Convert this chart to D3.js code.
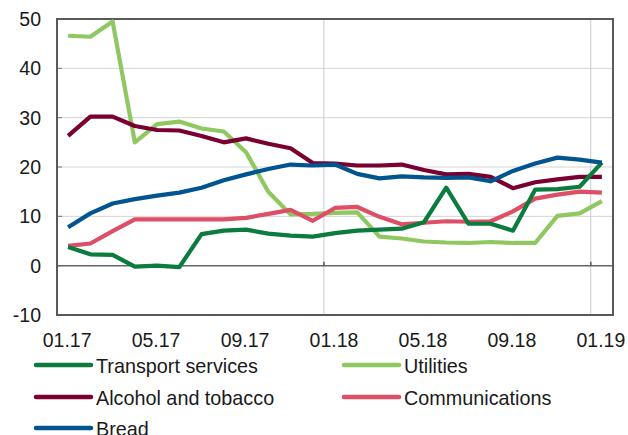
<!DOCTYPE html>
<html>
<head>
<meta charset="utf-8">
<script src="https://cdn.jsdelivr.net/npm/d3@7"></script>
<style>
  body { margin: 0; background: #fff; }
  text { font-family: "Liberation Sans", Arial, sans-serif; fill: #1a1a1a; }
</style>
</head>
<body>
<div id="chart"></div>
<script>
// months (categories)
const months = ['01.17','02.17','03.17','04.17','05.17','06.17','07.17','08.17','09.17','10.17','11.17','12.17',
                '01.18','02.18','03.18','04.18','05.18','06.18','07.18','08.18','09.18','10.18','11.18','12.18','01.19'];
const tickLabels = ['01.17','05.17','09.17','01.18','05.18','09.18','01.19'];
const gridMonths = ['01.18','01.19'];
const yTicks = [-10, 0, 10, 20, 30, 40, 50];

const transport = [3.8, 2.3, 2.2, -0.2, 0.0, -0.3, 6.4, 7.1, 7.3, 6.5, 6.1, 5.9, 6.6, 7.1, 7.3, 7.5, 8.8, 15.8, 8.5, 8.5, 7.1, 15.4, 15.5, 16.0, 20.9];
const utilities = [46.6, 46.4, 49.5, 25.0, 28.7, 29.2, 27.8, 27.2, 23.0, 15.0, 10.4, 10.5, 10.7, 10.8, 5.9, 5.5, 4.9, 4.7, 4.6, 4.8, 4.6, 4.6, 10.1, 10.6, 13.1];
const alcohol = [26.3, 30.2, 30.2, 28.3, 27.5, 27.4, 26.3, 25.0, 25.8, 24.7, 23.8, 20.8, 20.7, 20.3, 20.3, 20.5, 19.4, 18.5, 18.6, 18.0, 15.7, 16.9, 17.5, 18.0, 18.0];
const communications = [4.0, 4.5, 7.0, 9.4, 9.4, 9.4, 9.4, 9.4, 9.7, 10.5, 11.3, 9.1, 11.7, 11.9, 9.9, 8.4, 8.7, 9.0, 8.9, 9.0, 11.0, 13.6, 14.4, 15.0, 14.8];
const bread = [7.8, 10.6, 12.6, 13.5, 14.2, 14.8, 15.8, 17.3, 18.5, 19.6, 20.5, 20.3, 20.5, 18.6, 17.7, 18.1, 17.9, 17.8, 17.9, 17.1, 19.2, 20.7, 21.9, 21.5, 20.9];

const series = [
  { name: 'Transport services', values: transport, color: '#0b7b3e' },
  { name: 'Utilities', values: utilities, color: '#8fc760' },
  { name: 'Alcohol and tobacco', values: alcohol, color: '#7a0032' },
  { name: 'Communications', values: communications, color: '#dd4f66' },
  { name: 'Bread', values: bread, color: '#00548f' }
];
// draw order (last on top)
const drawOrder = ['Utilities', 'Communications', 'Alcohol and tobacco', 'Transport services', 'Bread'];

const W = 628, H = 435;
const plot = { left: 57, right: 613, top: 19, bottom: 315 };

const svg = d3.select('#chart').append('svg')
  .attr('width', W)
  .attr('height', H);

const x = d3.scaleBand().domain(months).range([plot.left, plot.right]).padding(0);
const xc = m => x(m) + x.bandwidth() / 2;
const y = d3.scaleLinear().domain([-10, 50]).range([plot.bottom, plot.top]);

// horizontal gridlines
svg.append('g')
  .selectAll('line')
  .data(yTicks.filter(v => v !== 0 && v !== 50 && v !== -10))
  .join('line')
  .attr('x1', plot.left).attr('x2', plot.right)
  .attr('y1', d => y(d)).attr('y2', d => y(d))
  .style('stroke', '#d3d3d3')
  .style('stroke-width', 1);

// vertical gridlines
svg.append('g')
  .selectAll('line')
  .data(gridMonths)
  .join('line')
  .attr('x1', d => x(d)).attr('x2', d => x(d))
  .attr('y1', plot.top).attr('y2', plot.bottom)
  .style('stroke', '#c5ccd3')
  .style('stroke-width', 1);

// inner y ticks
svg.append('g')
  .selectAll('line')
  .data(yTicks)
  .join('line')
  .attr('x1', plot.left).attr('x2', plot.left + 5)
  .attr('y1', d => y(d)).attr('y2', d => y(d))
  .style('stroke', '#777')
  .style('stroke-width', 1);

// zero line + ticks
svg.append('line')
  .attr('x1', plot.left).attr('x2', plot.right)
  .attr('y1', y(0)).attr('y2', y(0))
  .style('stroke', '#666')
  .style('stroke-width', 1.5);

svg.append('g')
  .selectAll('line')
  .data(gridMonths)
  .join('line')
  .attr('x1', d => x(d)).attr('x2', d => x(d))
  .attr('y1', y(0) - 4).attr('y2', y(0))
  .style('stroke', '#555')
  .style('stroke-width', 1.5);

// frame
svg.append('rect')
  .attr('x', plot.left).attr('y', plot.top)
  .attr('width', plot.right - plot.left)
  .attr('height', plot.bottom - plot.top)
  .style('fill', 'none')
  .style('stroke', '#595959')
  .style('stroke-width', 2);

// y labels
svg.append('g')
  .selectAll('text')
  .data(yTicks)
  .join('text')
  .attr('x', 41)
  .attr('y', d => y(d))
  .attr('text-anchor', 'end')
  .attr('dominant-baseline', 'central')
  .style('font-size', '19.5px')
  .text(d => d);

// x labels
svg.append('g')
  .selectAll('text')
  .data(tickLabels)
  .join('text')
  .attr('x', d => xc(d) - 1)
  .attr('y', 347)
  .attr('text-anchor', 'middle')
  .style('font-size', '19.5px')
  .text(d => d);

// lines
const line = d3.line()
  .x((d, i) => xc(months[i]))
  .y(d => y(d));

drawOrder.forEach(name => {
  const s = series.find(e => e.name === name);
  svg.append('path')
    .datum(s.values)
    .attr('d', line)
    .style('fill', 'none')
    .style('stroke', s.color)
    .style('stroke-width', 4.2)
    .style('stroke-linejoin', 'round');
});

// legend
const legendPos = [
  { x: 36, y: 365 }, { x: 344, y: 365 },
  { x: 36, y: 397 }, { x: 344, y: 397 },
  { x: 36, y: 428 }
];
series.forEach((s, i) => {
  const p = legendPos[i];
  const g = svg.append('g').attr('transform', `translate(${p.x}, ${p.y})`);
  g.append('line')
    .attr('x1', 0).attr('x2', 55)
    .attr('y1', 0).attr('y2', 0)
    .style('stroke', s.color)
    .style('stroke-width', 4.5)
    .style('stroke-linecap', 'round');
  g.append('text')
    .attr('x', 60)
    .attr('y', 1)
    .attr('dominant-baseline', 'central')
    .style('font-size', '19.8px')
    .text(s.name);
});
</script>
</body>
</html>
